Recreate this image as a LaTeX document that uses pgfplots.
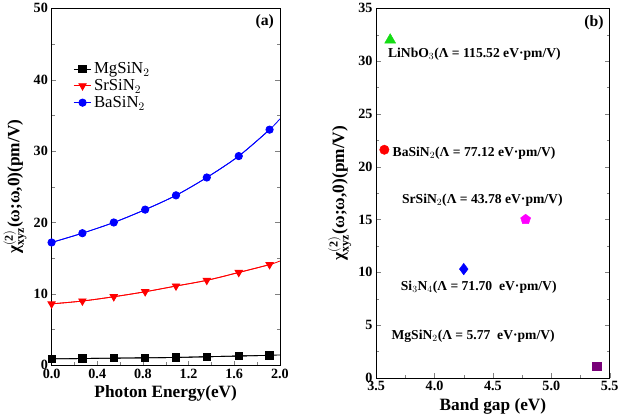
\documentclass[border=0pt]{standalone}
\usepackage{pgfplots}
\pgfplotsset{compat=1.18}
\usepackage{fontspec}
\setmainfont{Liberation Serif}
\definecolor{cgreen}{RGB}{20,220,20}
\definecolor{cmag}{RGB}{255,0,255}
\definecolor{cpurp}{RGB}{120,0,120}
\begin{document}
\begin{tikzpicture}
\begin{axis}[
  at={(0pt,0pt)}, anchor=south west,
  scale only axis,
  width=218pt, height=341pt,
  tick align=inside,
  minor tick num=1,
  xtick pos=left,
  ytick pos=both,
  /pgf/number format/assume math mode=true,
  tick label style={font=\fontsize{13.5}{13.5}\selectfont\bfseries},
  label style={font=\fontsize{16.5}{16.5}\selectfont\bfseries},
  xmin=0, xmax=2.0, ymin=0, ymax=50,
  xtick={0,0.4,0.8,1.2,1.6,2.0},
  xticklabels={0.0,0.4,0.8,1.2,1.6,2.0},
  ytick={0,10,20,30,40,50},
  xlabel={Photon Energy(eV)},
  ylabel={χ$^{\mathbf{(2)}}_{\mathbf{xyz}}$(ω\char"3B ω,0)(pm/V)},
  legend style={at={(0.08,0.86)}, anchor=north west, draw=none, fill=none, font=\fontsize{16}{16}\selectfont},
  legend cell align=left,
]
\addplot[black, thick, smooth, forget plot] coordinates {
(0,0.9) (0.27,0.95) (0.545,1.0) (0.82,1.05) (1.09,1.1) (1.36,1.2) (1.64,1.3) (1.91,1.4) (2.0,1.45)};
\addplot[red, thick, smooth, forget plot] coordinates {
(0,8.6) (0.27,9.0) (0.545,9.6) (0.82,10.3) (1.09,11.1) (1.36,11.9) (1.64,13.0) (1.91,14.1) (2.0,14.6)};
\addplot[blue, thick, smooth, forget plot] coordinates {
(0,17.2) (0.27,18.5) (0.545,20.0) (0.82,21.8) (1.09,23.8) (1.36,26.3) (1.64,29.3) (1.91,33.0) (2.0,34.5)};
\addplot[black, thick, smooth, mark=square*, mark size=3.5pt] coordinates {
(0,0.9) (0.27,0.95) (0.545,1.0) (0.82,1.05) (1.09,1.1) (1.36,1.2) (1.64,1.3) (1.91,1.4)};
\addlegendentry{MgSiN$_2$}
\addplot[red, thick, smooth, mark=triangle*, mark size=4pt, mark options={rotate=180}] coordinates {
(0,8.6) (0.27,9.0) (0.545,9.6) (0.82,10.3) (1.09,11.1) (1.36,11.9) (1.64,13.0) (1.91,14.1)};
\addlegendentry{SrSiN$_2$}
\addplot[blue, thick, smooth, mark=*, mark size=3.5pt] coordinates {
(0,17.2) (0.27,18.5) (0.545,20.0) (0.82,21.8) (1.09,23.8) (1.36,26.3) (1.64,29.3) (1.91,33.0)};
\addlegendentry{BaSiN$_2$}
\node[anchor=north east, font=\fontsize{15}{15}\selectfont\bfseries] at (axis cs:1.98,49.6) {(a)};
\end{axis}
\begin{axis}[
  at={(310pt,-12pt)}, anchor=south west,
  scale only axis,
  width=223pt, height=353pt,
  tick align=inside,
  minor tick num=1,
  xtick pos=left,
  ytick pos=both,
  /pgf/number format/assume math mode=true,
  tick label style={font=\fontsize{13.5}{13.5}\selectfont\bfseries},
  label style={font=\fontsize{16.5}{16.5}\selectfont\bfseries},
  xmin=3.5, xmax=5.5, ymin=0, ymax=35,
  xtick={3.5,4.0,4.5,5.0,5.5},
  xticklabels={3.5,4.0,4.5,5.0,5.5},
  ytick={0,5,10,15,20,25,30,35},
  xlabel={Band gap (eV)},
  ylabel={χ$^{\mathbf{(2)}}_{\mathbf{xyz}}$(ω\char"3B ω,0)(pm/V)},
]
\addplot[only marks, cgreen, mark=triangle*, mark size=6pt] coordinates {(3.62,32.0)};
\addplot[only marks, red, mark=*, mark size=4.5pt] coordinates {(3.57,21.6)};
\addplot[only marks, cmag, mark=pentagon*, mark size=5pt] coordinates {(4.78,15.0)};
\addplot[only marks, blue, mark=diamond*, mark size=5.5pt] coordinates {(4.25,10.3)};
\addplot[only marks, cpurp, mark=square*, mark size=4pt] coordinates {(5.39,1.1)};
\node[font=\fontsize{13}{13}\selectfont\bfseries, anchor=west, inner sep=0pt] at (axis cs:3.60,30.6) {LiNbO$_3$(Λ = 115.52 eV·pm/V)};
\node[font=\fontsize{13}{13}\selectfont\bfseries, anchor=west, inner sep=0pt] at (axis cs:3.64,21.3) {BaSiN$_2$(Λ = 77.12 eV·pm/V)};
\node[font=\fontsize{13}{13}\selectfont\bfseries, anchor=west, inner sep=0pt] at (axis cs:3.72,16.8) {SrSiN$_2$(Λ = 43.78 eV·pm/V)};
\node[font=\fontsize{13}{13}\selectfont\bfseries, anchor=west, inner sep=0pt] at (axis cs:3.71,8.6) {Si$_3$N$_4$(Λ = 71.70~ eV·pm/V)};
\node[font=\fontsize{13}{13}\selectfont\bfseries, anchor=west, inner sep=0pt] at (axis cs:3.63,3.9) {MgSiN$_2$(Λ = 5.77~ eV·pm/V)};
\node[anchor=north east, font=\fontsize{15}{15}\selectfont\bfseries] at (axis cs:5.48,34.7) {(b)};
\end{axis}
\end{tikzpicture}
\end{document}
